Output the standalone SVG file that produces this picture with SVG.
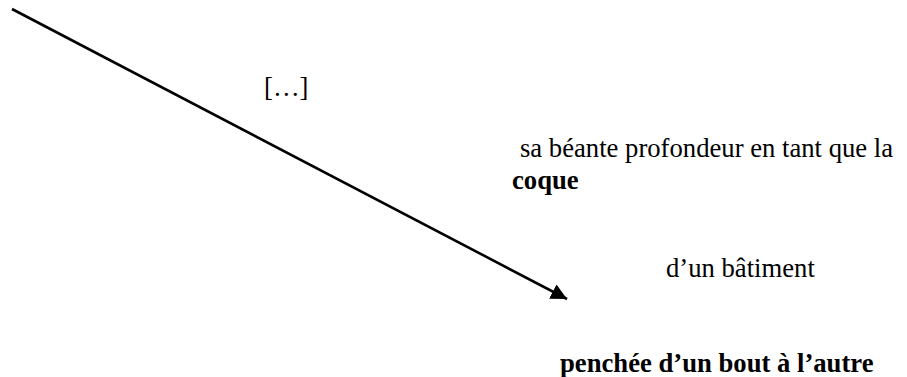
<svg xmlns="http://www.w3.org/2000/svg" width="907" height="377" viewBox="0 0 907 377">
<style>
.t{font-family:"Liberation Serif","Times New Roman",serif;font-size:26.67px;fill:#000}
.b{font-weight:bold}
.c{stroke:#000;stroke-width:2.6;fill:none}
</style>
<defs>
<marker id="ah" markerUnits="userSpaceOnUse" markerWidth="16" markerHeight="16" refX="14" refY="7" orient="auto" viewBox="0 0 14 14">
<path d="M0,0 L14,7 L0,14 z" fill="#000"/>
</marker>
</defs>
<rect width="907" height="377" fill="#fff"/>
<g id="connectors">
<line class="c" x1="12" y1="9" x2="567" y2="299" marker-end="url(#ah)"/>
</g>
<g id="n1"><text class="t" x="264" y="96">[…]</text></g>
<g id="n2"><text class="t" x="520" y="157">sa béante profondeur en tant que la</text></g>
<g id="n3"><text class="t b" x="512" y="189">coque</text></g>
<g id="n4"><text class="t" x="666" y="277">d’un bâtiment</text></g>
<g id="n5"><text class="t b" x="560" y="372">penchée d’un bout à l’autre</text></g>
</svg>
